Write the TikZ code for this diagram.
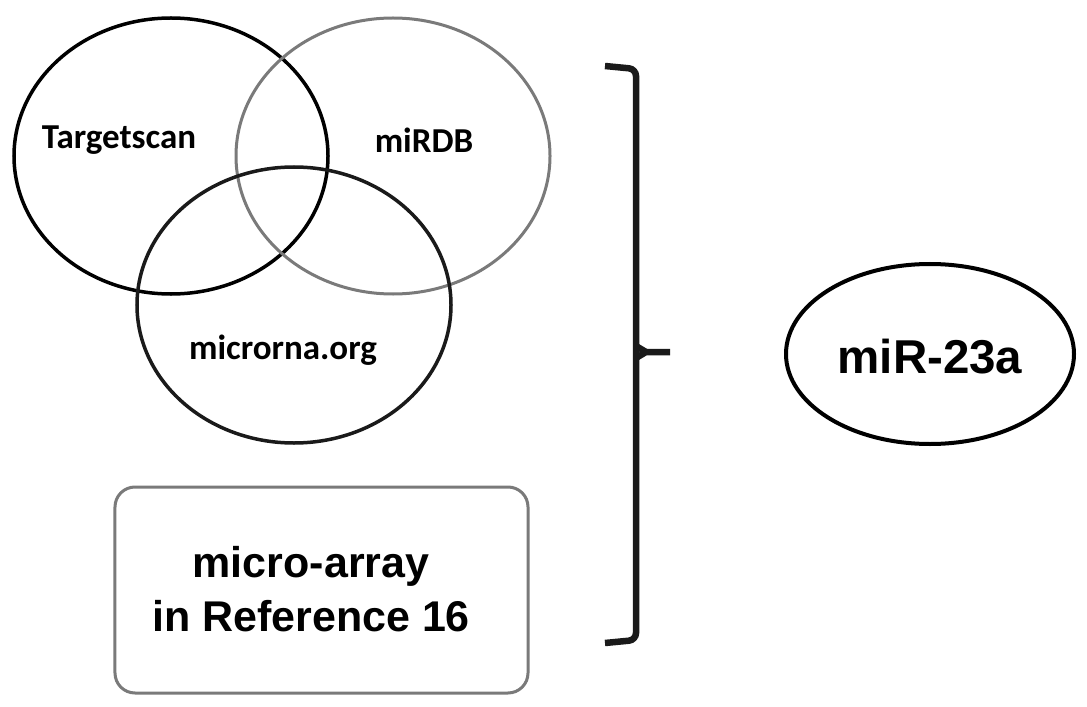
\documentclass[tikz,border=0pt]{standalone}
\usepackage{fontspec}
\setmainfont{Liberation Sans}
\newfontfamily\calib{Carlito}
\usetikzlibrary{shapes.geometric}
\definecolor{vgray}{HTML}{7A7A7A}
\definecolor{dk}{HTML}{1A1A1A}
\tikzset{
  venn/.style={draw, ellipse, minimum width=314bp, minimum height=276bp, inner sep=0pt, line width=3.5bp},
  vlabel/.style={font=\calib\bfseries\fontsize{35bp}{40bp}\selectfont, inner sep=0pt},
  bigtext/.style={font=\bfseries\fontsize{43bp}{54bp}\selectfont, align=center, inner sep=0pt},
  brk/.style={draw=dk, line width=6.5bp},
}
\begin{document}
\begin{tikzpicture}[x=1bp,y=-1bp]
\useasboundingbox[fill=white] (0,0) rectangle (1087,707);
% Venn circles
\node[venn, draw=black] (ts) at (171,156) {};
\node[venn, draw=vgray, line width=3bp] (mirdb) at (393,156) {};
\node[venn, draw=dk] (mo) at (294,305) {};
% labels
\node[vlabel] (tsl) at (119,140) {Targetscan};
\node[vlabel] (mirdbl) at (424,140) {miRDB};
\node[vlabel] (mol) at (283,350) {microrna.org};
% micro-array box
\node[draw=vgray, line width=3bp, rounded corners=20bp, minimum width=413bp, minimum height=206bp] (box) at (321.5,590) {};
\node[bigtext] (boxl) at (311,589) {micro-array\\in Reference 16};
% bracket
\coordinate (b1) at (605,66);
\coordinate (b2) at (636,69);
\coordinate (bm) at (636,352);
\coordinate (bt) at (670,352);
\coordinate (b3) at (636,640);
\coordinate (b4) at (605,643);
\draw[brk, rounded corners=7bp] (b1) -- (b2) -- (b3) -- (b4);
\draw[brk, line join=miter] ([yshift=-6bp]bm) -- ([xshift=10bp]bm) -- (bt);
\draw[brk, line join=miter] ([yshift=6bp]bm) -- ([xshift=10bp]bm);
% miR-23a
\node[draw=black, ellipse, line width=4bp, minimum width=288bp, minimum height=180bp, inner sep=0pt] (mir) at (930,354) {};
\node[font=\bfseries\fontsize{47.5bp}{50bp}\selectfont, inner sep=0pt] (mirl) at (930,357) {miR-23a};
\end{tikzpicture}
\end{document}
